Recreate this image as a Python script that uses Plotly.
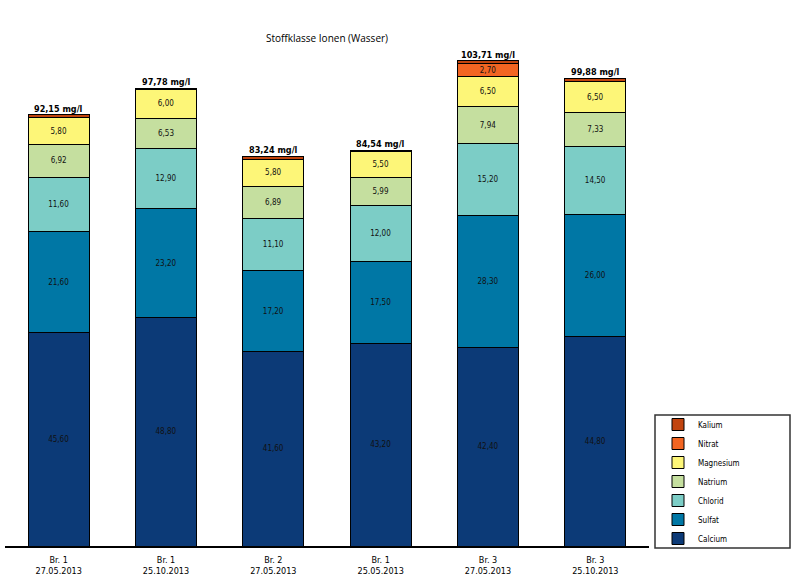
import plotly.graph_objects as go

categories = ["Br. 1<br>27.05.2013", "Br. 1<br>25.10.2013", "Br. 2<br>27.05.2013",
              "Br. 1<br>25.05.2013", "Br. 3<br>27.05.2013", "Br. 3<br>25.10.2013"]
calcium = [45.60, 48.80, 41.60, 43.20, 42.40, 44.80]
sulfat = [21.60, 23.20, 17.20, 17.50, 28.30, 26.00]
chlorid = [11.60, 12.90, 11.10, 12.00, 15.20, 14.50]
natrium = [6.92, 6.53, 6.89, 5.99, 7.94, 7.33]
magnesium = [5.80, 6.00, 5.80, 5.50, 6.50, 6.50]
nitrat = [0.0, 0.0, 0.0, 0.0, 2.70, 0.0]
kalium = [0.63, 0.35, 0.65, 0.35, 0.67, 0.75]
totals = [92.15, 97.78, 83.24, 84.54, 103.71, 99.88]

series = [
    ("Calcium", calcium, "#0c3a77", True),
    ("Sulfat", sulfat, "#0077a5", True),
    ("Chlorid", chlorid, "#7ccdc6", True),
    ("Natrium", natrium, "#c5df9f", True),
    ("Magnesium", magnesium, "#fdf678", True),
    ("Nitrat", nitrat, "#f26522", True),
    ("Kalium", kalium, "#c1440e", False),
]

FONT = "DejaVu Sans Condensed, Liberation Sans Narrow, Arial Narrow, sans-serif"

def fmt(v):
    return f"{v:.2f}".replace(".", ",")

fig = go.Figure()
for name, vals, color, show in series:
    texts = [fmt(v) if (show and v > 0) else "" for v in vals]
    fig.add_trace(go.Bar(
        x=categories, y=vals, name=name, text=texts,
        textposition="inside", insidetextanchor="middle",
        textfont=dict(size=8, color="#111111", family=FONT),
        marker=dict(color=color, line=dict(color="black", width=1)),
        hoverinfo="skip",
    ))

for c, t in zip(categories, totals):
    fig.add_annotation(x=c, y=t, text="<b>" + fmt(t) + " mg/l</b>", showarrow=False,
                       yanchor="bottom", yshift=-1,
                       font=dict(size=9, color="black", family=FONT))

# legend frame
fig.add_shape(type="rect", xref="paper", yref="paper",
              x0=(655 - 5) / 644, x1=(790 - 5) / 644,
              y0=(546 - 548) / 506, y1=(546 - 415) / 506,
              line=dict(color="#333333", width=1.5), fillcolor="rgba(0,0,0,0)")

fig.update_layout(
    barmode="stack", bargap=0.43,
    width=800, height=585,
    margin=dict(l=5, r=151, t=40, b=39),
    paper_bgcolor="white", plot_bgcolor="white",
    uniformtext=dict(minsize=8, mode="show"),
    title=dict(text="Stoffklasse Ionen (Wasser)", x=0.5, xref="paper", xanchor="center",
               y=1 - 38 / 585, yref="container", yanchor="middle",
               font=dict(size=10, color="black", family="Open Sans, sans-serif")),
    xaxis=dict(showline=True, linecolor="black", linewidth=1.5, ticks="",
               ticklabelstandoff=4,
               tickfont=dict(size=9, color="black", family=FONT), showgrid=False),
    yaxis=dict(visible=False, range=[0, 108.1], showgrid=False),
    legend=dict(traceorder="reversed", xref="container", yref="container",
                x=658 / 800, y=1 - 410 / 585, xanchor="left", yanchor="top",
                borderwidth=0, bgcolor="rgba(0,0,0,0)",
                font=dict(size=8, color="black", family=FONT),
                itemwidth=30, tracegroupgap=0),
    showlegend=True,
)

fig.write_html("out.html")
